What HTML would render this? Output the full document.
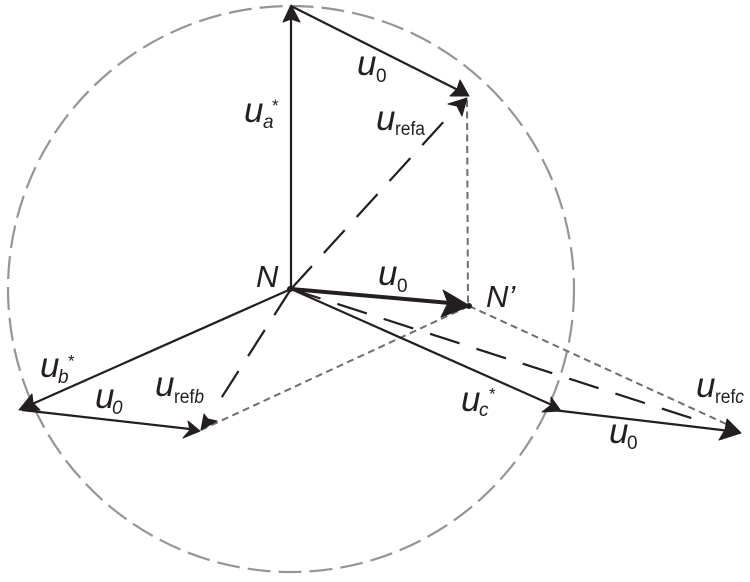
<!DOCTYPE html>
<html>
<head>
<meta charset="utf-8">
<style>
html,body{margin:0;padding:0;background:#fff;}
svg{display:block;}
text{font-family:"Liberation Sans",sans-serif;fill:#231f20;}
.u{font-size:35px;font-style:italic;}
.n{font-size:31px;font-style:italic;}
.s{font-size:19px;}
.si{font-size:19px;font-style:italic;}
.st{font-size:17px;}
.l{stroke:#231f20;stroke-width:2.2;fill:none;}
.d{stroke:#231f20;stroke-width:2.2;fill:none;stroke-dasharray:31 17.7;}
.g{stroke:#6d6e71;stroke-width:2;fill:none;stroke-dasharray:7 4.5;}
.h{fill:#231f20;stroke:#231f20;stroke-width:1;stroke-linejoin:round;}
</style>
</head>
<body>
<svg width="750" height="582" viewBox="0 0 750 582" xmlns="http://www.w3.org/2000/svg">
<rect width="750" height="582" fill="#fff"/>
<circle cx="291" cy="289" r="283" fill="none" stroke="#939598" stroke-width="2.2" stroke-dasharray="23 8"/>

<!-- dotted -->
<line class="g" x1="467" y1="100" x2="468" y2="305"/>
<line class="g" x1="201" y1="430" x2="469" y2="306"/>
<line class="g" x1="469" y1="306" x2="735" y2="428"/>

<!-- long dashed -->
<line class="d" x1="291" y1="289" x2="447" y2="118"/>
<line class="d" x1="291" y1="289" x2="220" y2="400"/>
<line class="d" x1="291" y1="289" x2="702" y2="421.5"/>

<!-- solid -->
<line class="l" x1="291" y1="289" x2="291" y2="12"/>
<line class="l" x1="291" y1="6" x2="460" y2="91"/>
<line class="l" x1="291" y1="289" x2="30" y2="405"/>
<line class="l" x1="22" y1="410" x2="190" y2="429"/>
<line class="l" x1="291" y1="289" x2="552" y2="405"/>
<line class="l" x1="553" y1="410" x2="730" y2="431"/>
<line x1="291" y1="289" x2="450" y2="303" stroke="#231f20" stroke-width="4"/>

<!-- arrowheads -->
<polygon class="h" points="291,5 300,22 291,19 283,22"/>
<polygon class="h" points="469,96 450,96 457,89 460,80"/>
<polygon class="h" points="467,98 448,104 457,106 462,116"/>
<polygon class="h" points="470,306 443,290 448,303 441,317"/>
<polygon class="h" points="19,410 32,394 33,403 40,410"/>
<polygon class="h" points="200,431 188,421 190,430 183,438"/>
<polygon class="h" points="201,430 204,414 208,419 217,421"/>
<polygon class="h" points="561,411 551,397 551,405 542,412"/>
<polygon class="h" points="741,433 727,419 725,430 719,440"/>
<circle class="h" cx="290" cy="289" r="2.5"/>
<circle class="h" cx="469" cy="306" r="2.5"/>

<!-- labels -->
<text class="u" x="357" y="75">u</text><text class="s" x="376" y="82">0</text>
<text class="u" x="244" y="122">u</text><text class="si" x="263" y="128">a</text><text class="st" x="272" y="111">*</text>
<text class="u" x="376" y="130">u</text><text class="s" x="395" y="135" textLength="30" lengthAdjust="spacingAndGlyphs">refa</text>
<text class="n" x="256" y="287">N</text>
<text class="u" x="378" y="285">u</text><text class="s" x="397" y="292">0</text>
<text class="n" x="486" y="307">N’</text>
<text class="u" x="40" y="377">u</text><text class="si" x="58" y="383">b</text><text class="st" x="68" y="366.5">*</text>
<text class="u" x="95" y="408">u</text><text class="si" x="112" y="414">0</text>
<text class="u" x="155" y="396">u</text><text class="s" x="174" y="403" textLength="30" lengthAdjust="spacingAndGlyphs">ref<tspan font-style="italic">b</tspan></text>
<text class="u" x="461" y="411">u</text><text class="si" x="479" y="416">c</text><text class="st" x="489" y="399.5">*</text>
<text class="u" x="609" y="443">u</text><text class="s" x="627" y="449">0</text>
<text class="u" x="696" y="397">u</text><text class="s" x="715" y="403" textLength="29" lengthAdjust="spacingAndGlyphs">ref<tspan font-style="italic">c</tspan></text>
</svg>
</body>
</html>
